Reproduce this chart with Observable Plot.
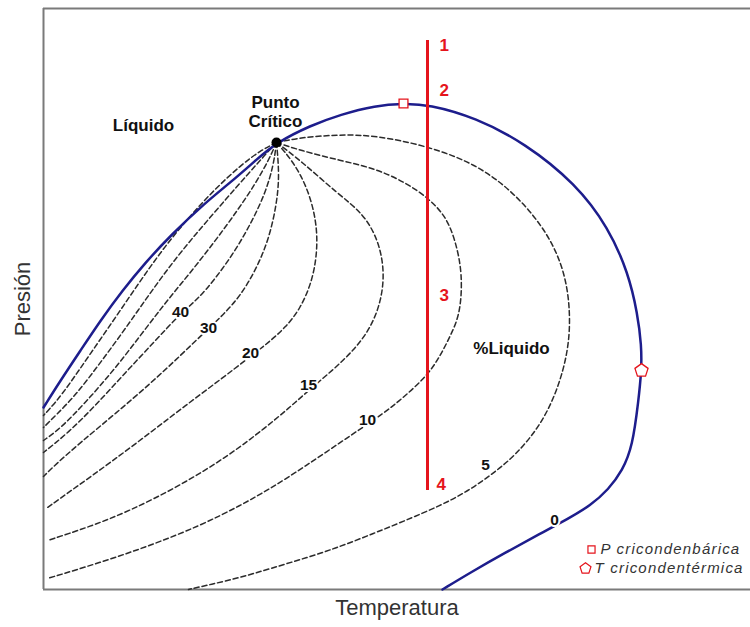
<!DOCTYPE html>
<html><head><meta charset="utf-8">
<script src="https://cdn.jsdelivr.net/npm/d3@7"></script>
<script src="https://cdn.jsdelivr.net/npm/@observablehq/plot@0.6"></script>
<style>body{margin:0;background:#fff;font-family:"Liberation Sans",Arial,sans-serif}</style>
</head><body><div id="chart"></div>
<script>
// Phase envelope (bubble + dew curve), [Temperature, Pressure] in arbitrary units
const envelope = [[0,182],[17,209],[37,239],[57,269],[79,299],[102,327],[127,354],[162,387],[187,407],[212,429],[233,447],[267,464],[297,475],[332,484],[360,486],[385,485],[432,472],[482,446],[532,406],[565,362],[585,316],[594,276],[598,244],[598,219],[595,189],[589,143],[579,119],[565,100],[547,84],[525,71],[497,56],[462,37],[427,17],[399,0]];
// Quality lines (% liquid)
const q5  = [[233,447],[257,452],[297,455],[332,454],[382,444],[432,426],[472,396],[505,356],[522,316],[527,276],[525,239],[514,199],[497,164],[472,134],[447,114],[422,97],[397,84],[362,69],[330,56],[297,43],[264,32],[227,21],[197,12],[167,5],[145,0]];
const q10 = [[233,447],[257,439],[297,429],[332,421],[362,407],[384,392],[402,374],[412,349],[419,316],[417,276],[407,254],[397,234],[384,214],[360,192],[340,176],[310,156],[260,122],[227,101],[197,84],[157,64],[107,44],[57,27],[4,11]];
const q15 = [[233,447],[257,429],[294,396],[320,376],[335,349],[341,319],[338,289],[327,261],[310,239],[290,220],[265,199],[245,181],[222,162],[187,135],[137,104],[87,79],[47,63],[4,49]];
const q20 = [[233,447],[249,429],[264,402],[273,369],[274,339],[269,309],[257,281],[242,262],[225,247],[207,233],[177,210],[142,184],[107,157],[67,127],[32,102],[4,82]];
const q30 = [[233,447],[236,414],[233,384],[225,349],[212,319],[197,294],[181,276],[165,261],[137,234],[107,206],[72,176],[37,147],[12,125],[0,113]];
const q40 = [[233,447],[230,424],[222,397],[209,369],[192,339],[172,311],[154,290],[137,276],[112,249],[82,217],[52,184],[25,157],[0,137]];
const q50 = [[233,447],[225,429],[212,406],[194,379],[172,349],[147,317],[122,287],[97,254],[70,219],[42,187],[17,161],[0,149]];
const q60 = [[233,447],[221,434],[205,416],[183,391],[157,361],[132,331],[107,297],[82,261],[57,227],[32,194],[12,174],[0,162]];
const q70 = [[233,447],[217,439],[197,424],[172,401],[147,374],[122,344],[97,309],[72,272],[47,236],[25,204],[12,187],[0,174]];
const qualityNames = ["5","10","15","20","30","40","50","60","70"];
const qualityCurves = [q5,q10,q15,q20,q30,q40,q50,q60,q70];

// Contour labels
const contourText = ["40","30","20","15","10","5","0"];
const contourT = [137,165,207,265,324,442,511];
const contourP = [277,261,236,204,169,124,69];

// Isothermal path 1-2-3-4
const pathT = 384;
const pathPTop = 549, pathPBottom = 99;
const pathText = ["1","2","3","4"];
const pathLabelT = [396,396,396,393];
const pathLabelP = [544,499,294,105];

// Special points
const criticalPoint = [233,447];
const cricondenbar = [360,486];
const cricondentherm = [598,219];

// Region labels
const regionText = ["Líquido","Punto","Crítico","%Liquido"];
const regionT = [100,232,232,468];
const regionP = [464,487,468,241];

// Legend
const legendText = ["P cricondenbárica","T cricondentérmica"];
const legendSymT = [548,542];
const legendTextT = [557,551];
const legendP = [40,21];

const domainT = [0,707], domainP = [0,581];

const pentagon = {
  draw(context, size) {
    const r = Math.sqrt(size / 2.3776);
    for (let k = 0; k < 5; k++) {
      const a = -Math.PI/2 + k * 2 * Math.PI / 5;
      const x = r * Math.cos(a), y = r * Math.sin(a);
      if (k === 0) context.moveTo(x, y); else context.lineTo(x, y);
    }
    context.closePath();
  }
};

const dashedRows = qualityCurves.flatMap((c, i) => c.map(([T,P]) => ({q: qualityNames[i], T, P})));
const envRows = envelope.map(([T,P]) => ({T,P}));
const red = "#e5141c", blue = "#1d1d8c", grey = "#7a7a7a";

const chart = Plot.plot({
  width: 750, height: 627,
  marginLeft: 43, marginTop: 8, marginBottom: 38, marginRight: 0,
  x: {domain: domainT, axis: null},
  y: {domain: domainP, axis: null},
  style: {fontFamily: '"Liberation Sans", Arial, sans-serif', background: "white"},
  marks: [
    Plot.ruleY([domainP[1]], {stroke: grey, strokeWidth: 2}),
    Plot.ruleY([domainP[0]], {stroke: grey, strokeWidth: 2}),
    Plot.ruleX([domainT[0]], {stroke: grey, strokeWidth: 2}),
    Plot.line(dashedRows, {x: "T", y: "P", z: "q", stroke: "#2b2b2b", strokeWidth: 1.5, strokeDasharray: "5,3", curve: "basis"}),
    Plot.line(envRows, {x: "T", y: "P", stroke: blue, strokeWidth: 2.5, curve: "basis"}),
    Plot.ruleX([pathT], {y1: pathPBottom, y2: pathPTop, stroke: red, strokeWidth: 3}),
    Plot.dot([criticalPoint], {x: d => d[0], y: d => d[1], r: 5, fill: "black"}),
    Plot.dot([cricondenbar], {x: d => d[0], y: d => d[1], symbol: "square", r: 5, stroke: red, fill: "white", strokeWidth: 1.3}),
    Plot.dot([cricondentherm], {x: d => d[0], y: d => d[1], symbol: pentagon, r: 6, stroke: red, fill: "white", strokeWidth: 1.3}),
    Plot.text(contourText, {x: (d,i) => contourT[i], y: (d,i) => contourP[i], text: d => d, fontWeight: "bold", fontSize: 15.5, fill: "#111", stroke: "white", strokeWidth: 4}),
    Plot.text(pathText, {x: (d,i) => pathLabelT[i], y: (d,i) => pathLabelP[i], text: d => d, fontWeight: "bold", fontSize: 17, fill: red, textAnchor: "start"}),
    Plot.text(regionText, {x: (d,i) => regionT[i], y: (d,i) => regionP[i], text: d => d, fontWeight: "bold", fontSize: 17, fill: "#111"}),
    Plot.dot([0], {x: () => legendSymT[0], y: () => legendP[0], symbol: "square", r: 4, stroke: red, fill: "white", strokeWidth: 1.2}),
    Plot.dot([0], {x: () => legendSymT[1], y: () => legendP[1], symbol: pentagon, r: 5, stroke: red, fill: "white", strokeWidth: 1.2}),
    Plot.text(legendText, {x: (d,i) => legendTextT[i], y: (d,i) => legendP[i], text: d => d, textAnchor: "start", fontStyle: "italic", fontSize: 15, fill: "#333"}),
    Plot.text(["Presión"], {frameAnchor: "left", textAnchor: "middle", lineAnchor: "middle", rotate: -90, dx: -21, fontSize: 22, fill: "#333"}),
    Plot.text(["Temperatura"], {frameAnchor: "bottom", textAnchor: "middle", lineAnchor: "middle", dy: 18, fontSize: 22, fill: "#333"})
  ]
});
d3.select(chart).selectAll("text")
  .filter(function() { return legendText.includes(this.textContent); })
  .attr("letter-spacing", "1.2");
document.getElementById("chart").appendChild(chart);
</script>
</body></html>
